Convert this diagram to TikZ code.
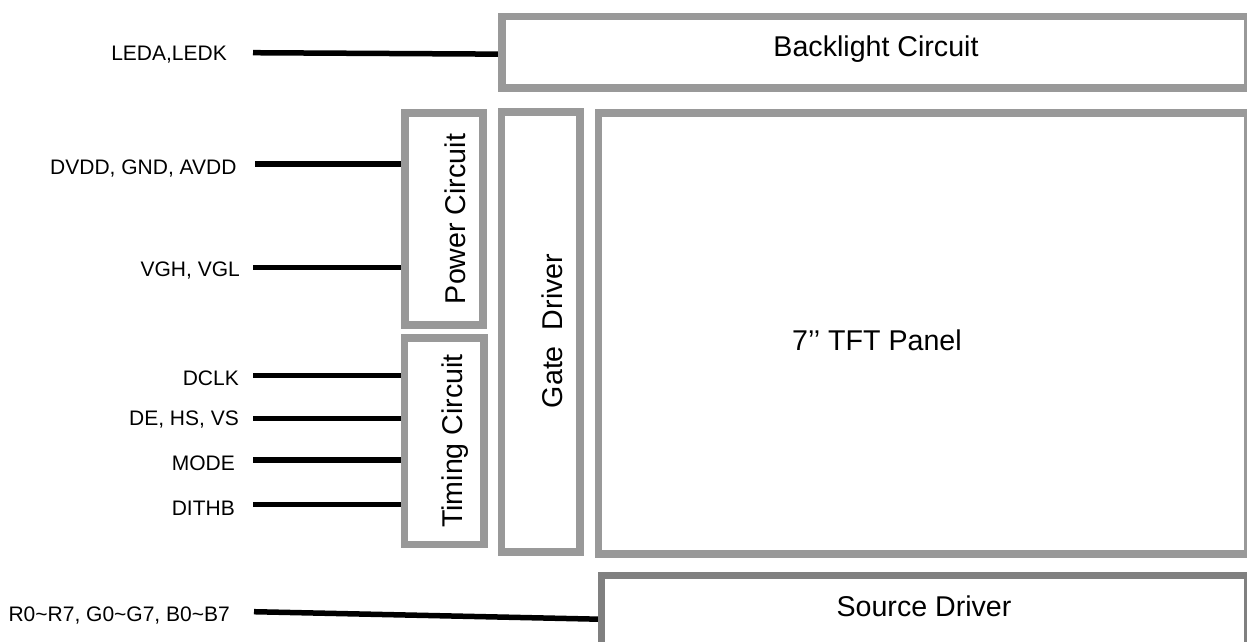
\documentclass[tikz,border=0pt]{standalone}
\usepackage{fontspec}
\setmainfont{Liberation Sans}
\usetikzlibrary{fit}
\definecolor{boxgray}{RGB}{153,153,153}
\definecolor{srcgray}{RGB}{128,128,128}
\begin{document}
\begin{tikzpicture}[x=1pt,y=-1pt,
  blk/.style={draw=boxgray, line width=7.5pt, fill=white, inner sep=0pt, outer sep=0pt},
  sig/.style={line width=5.5pt, black},
  lab/.style={font=\fontsize{21}{24}\selectfont, inner sep=0pt, anchor=base east},
  ttl/.style={font=\fontsize{28.6}{33}\selectfont, inner sep=0pt, anchor=base}]
\useasboundingbox (0,0) rectangle (1247,641);

% signal start points
\coordinate (sBL) at (253,52.7);
\coordinate (sP1) at (255,164);
\coordinate (sP2) at (253,267.7);
\coordinate (sT1) at (253,375.7);
\coordinate (sT2) at (253,418.3);
\coordinate (sT3) at (253,460);
\coordinate (sT4) at (253,504.3);
\coordinate (sSR) at (254,611.7);

% corner helpers
\coordinate (bla) at (502,16.3);   \coordinate (blb) at (1248,88);
\coordinate (pwa) at (405,113);    \coordinate (pwb) at (483,325);
\coordinate (tma) at (404.5,338);  \coordinate (tmb) at (484,544.7);
\coordinate (gda) at (501.7,112);  \coordinate (gdb) at (580,552);
\coordinate (tfa) at (598.5,113);  \coordinate (tfb) at (1248,554);
\coordinate (sra) at (601.5,575.5);\coordinate (srb) at (1248,665);

% invisible boxes first for anchors
\node[inner sep=0pt, outer sep=0pt, fit=(bla)(blb)] (bl) {};
\node[inner sep=0pt, outer sep=0pt, fit=(pwa)(pwb)] (pw) {};
\node[inner sep=0pt, outer sep=0pt, fit=(tma)(tmb)] (tm) {};
\node[inner sep=0pt, outer sep=0pt, fit=(sra)(srb)] (src) {};

% connectors
\draw[sig] (sBL) -- ([yshift=-2pt]bl.west);
\draw[sig] (sP1) -- (sP1 -| pw.west);
\draw[sig] (sP2) -- (sP2 -| pw.west);
\draw[sig] (sT1) -- (sT1 -| tm.west);
\draw[sig] (sT2) -- (sT2 -| tm.west);
\draw[sig] (sT3) -- (sT3 -| tm.west);
\draw[sig] (sT4) -- (sT4 -| tm.west);
\draw[sig] (sSR) -- ([yshift=1pt]src.west);

% boxes
\node[blk, fit=(bla)(blb)] (blbox) {};
\node[blk, fit=(pwa)(pwb)] (pwbox) {};
\node[blk, fit=(tma)(tmb)] (tmbox) {};
\node[blk, fit=(gda)(gdb)] (gdbox) {};
\node[blk, fit=(tfa)(tfb)] (tfbox) {};
\node[blk, draw=srcgray, fit=(sra)(srb)] (srbox) {};

% signal labels
\node[lab] (lLED) at (227,60.5) {LEDA,LEDK};
\node[lab] (lPWR) at (236.7,174.3) {DVDD, GND, AVDD};
\node[lab] (lVG) at (240,276.7) {VGH, VGL};
\node[lab] (lCLK) at (239,385) {DCLK};
\node[lab] (lDE) at (239,425.5) {DE, HS, VS};
\node[lab] (lMD) at (235,470) {MODE};
\node[lab] (lDT) at (235,515) {DITHB};
\node[lab] (lRGB) at (230,621.5) {R0\string~R7, G0\string~G7, B0\string~B7};

% titles
\node[ttl] (tBL) at (876,56.7) {Backlight Circuit};
\node[ttl] (tTFT) at (877,350.7) {7’’ TFT Panel};
\node[ttl] (tSRC) at (924,616.7) {Source Driver};
\node[ttl, rotate=90] (tPW) at (465,219) {Power Circuit};
\node[ttl, rotate=90] (tTM) at (462,441) {Timing Circuit};
\node[ttl, rotate=90] (tGD) at (562.7,331) {Gate\hspace{0.56em}Driver};
\end{tikzpicture}
\end{document}
